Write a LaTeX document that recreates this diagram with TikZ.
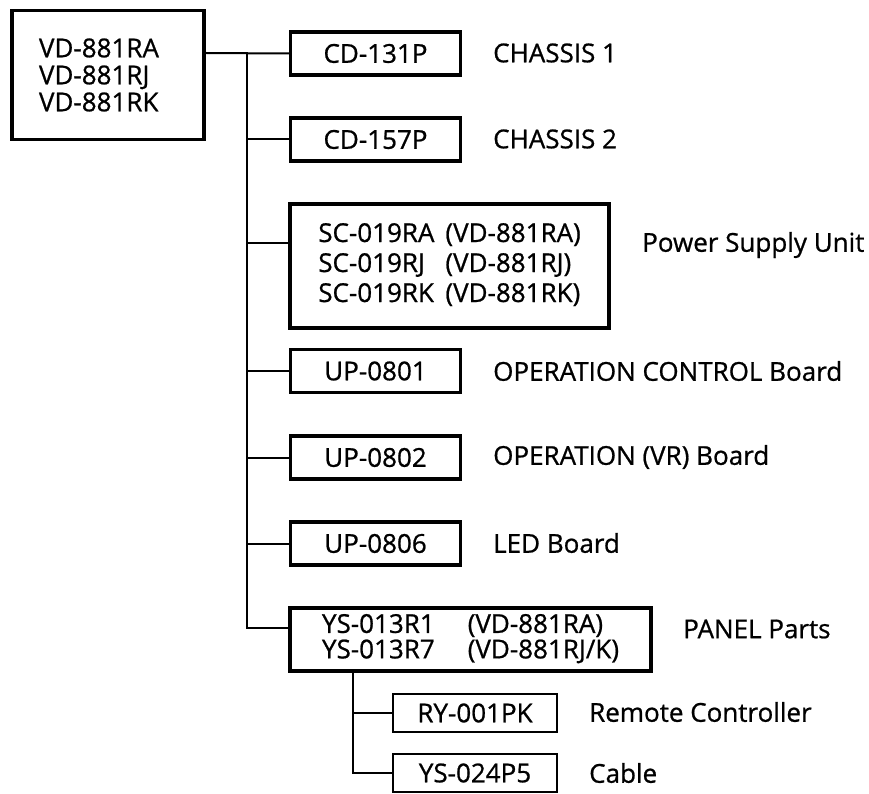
\documentclass[tikz,border=0pt]{standalone}
\usepackage{fontspec}
\setmainfont{Open Sans}[FakeBold=0.8]
\usetikzlibrary{positioning}

\begin{document}
\begin{tikzpicture}[x=1pt, y=-1pt,
    box/.style={draw, line width=3.5pt, inner sep=0pt, align=center, minimum width=170pt, minimum height=43pt},
    subbox/.style={draw, line width=2pt, inner sep=0pt, minimum width=164pt, minimum height=38pt},
    conn/.style={line width=2pt},
    lbl/.style={anchor=west, inner sep=0pt},
    font=\fontsize{26}{27}\selectfont]
  \useasboundingbox (0,0) rectangle (869,794);
  % model box
  \node[box, minimum width=192pt, minimum height=129pt, text width=138pt, align=left] (main) at (108,75) {VD-881RA\\VD-881RJ\\VD-881RK};
  % units
  \node[box] (cd131) at (375.5,53.5) {CD-131P};
  \node[box] (cd157) at (375.5,139.5) {CD-157P};
  \node[box, minimum width=319pt, minimum height=124pt, font=\fontsize{26}{30}\selectfont] (sc) at (449.5,266)
    {\begin{tabular}{@{}l@{\hspace{11pt}}l@{}}SC-019RA & (VD-881RA)\\ SC-019RJ & (VD-881RJ)\\ SC-019RK & (VD-881RK)\end{tabular}};
  \node[box] (up0801) at (375.5,371) {UP-0801};
  \node[box] (up0802) at (375.5,457.5) {UP-0802};
  \node[box] (up0806) at (375.5,543.5) {UP-0806};
  \node[box, minimum width=361pt, minimum height=63pt, font=\fontsize{26}{22}\selectfont] (panel) at (470.5,639.5)
    {\begin{tabular}{@{}l@{\hspace{33pt}}l@{}}YS-013R1 & (VD-881RA)\\ YS-013R7 & (VD-881RJ/K)\end{tabular}};
  \node[subbox] (ry) at (475,713) {RY-001PK};
  \node[subbox] (ys024) at (475,773) {YS-024P5};
  % labels
  \node[lbl] (chs1) at (493,53) {CHASSIS 1};
  \node[lbl] (chs2) at (493,139) {CHASSIS 2};
  \node[lbl] (psu) at (642,245) {Power Supply Unit};
  \node[lbl] (opc) at (493,371) {OPERATION CONTROL Board};
  \node[lbl] (opvr) at (493,457) {OPERATION (VR) Board};
  \node[lbl] (led) at (493,543) {LED Board};
  \node[lbl] (pnl) at (683,629) {PANEL Parts};
  \node[lbl] (rmt) at (589,712) {Remote Controller};
  \node[lbl] (cbl) at (589,773) {Cable};
  % connectors
  \coordinate (trunk) at (247,53);
  \coordinate (scin) at ([yshift=-41pt]sc.north west);
  \coordinate (pnlin) at ([yshift=-22pt]panel.north west);
  \coordinate (sub) at ([xshift=65pt]panel.south west);
  \draw[conn] (main.east |- trunk) -- (cd131.west);
  \draw[conn] (trunk) |- (pnlin);
  \foreach \n in {cd157, scin, up0801, up0802, up0806}
    \draw[conn] (trunk |- \n) -- (\n);
  \draw[conn] (sub) |- (ys024);
  \draw[conn] (sub |- ry) -- (ry);
\end{tikzpicture}
\end{document}
